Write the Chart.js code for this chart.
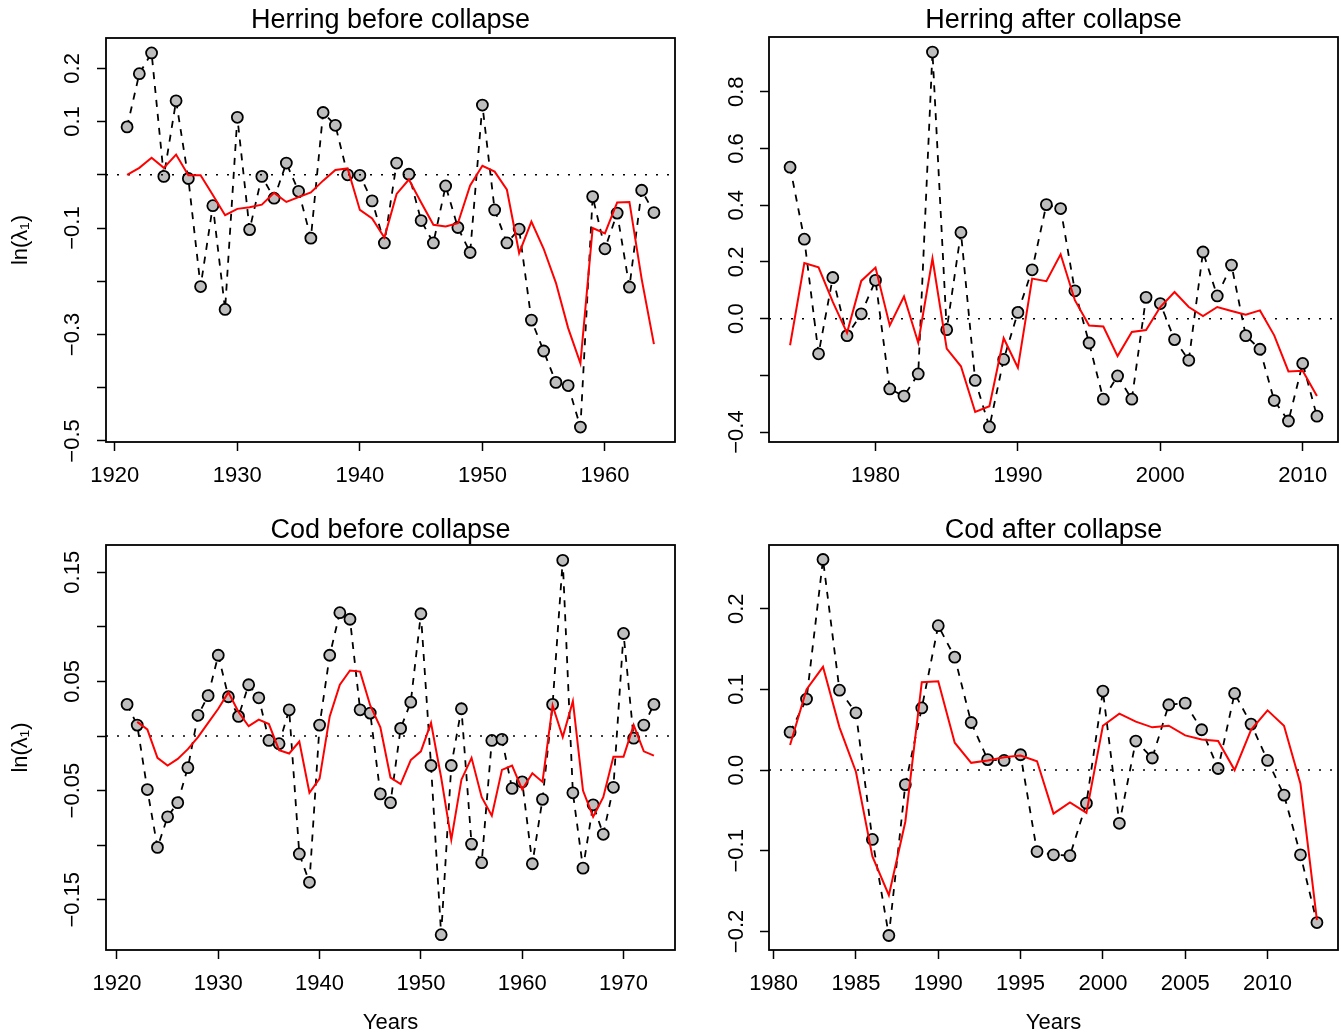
<!DOCTYPE html>
<html>
<head>
<meta charset="utf-8">
<title>Herring and cod: ln(λ1) before and after collapse</title>
<script src="https://cdn.jsdelivr.net/npm/chart.js@4.4.1/dist/chart.umd.min.js"></script>
<style>
  body { margin: 0; background: #fff; }
  canvas { position: absolute; }
</style>
</head>
<body>
<canvas id="herringBefore" width="680" height="500" style="left:0;top:0"></canvas>
<canvas id="herringAfter" width="661" height="500" style="left:680px;top:0"></canvas>
<canvas id="codBefore" width="680" height="534" style="left:0;top:500px"></canvas>
<canvas id="codAfter" width="661" height="534" style="left:680px;top:500px"></canvas>
<script>
// --- Herring before collapse ---
const herringBeforeYears = [1921, 1922, 1923, 1924, 1925, 1926, 1927, 1928, 1929, 1930, 1931, 1932, 1933, 1934, 1935,
  1936, 1937, 1938, 1939, 1940, 1941, 1942, 1943, 1944, 1945, 1946, 1947, 1948, 1949, 1950,
  1951, 1952, 1953, 1954, 1955, 1956, 1957, 1958, 1959, 1960, 1961, 1962, 1963, 1964];
const herringBeforeObs = [0.090, 0.190, 0.229, -0.003, 0.139, -0.007, -0.210, -0.058, -0.253, 0.108, -0.103, -0.003, -0.044, 0.022, -0.031,
  -0.119, 0.117, 0.093, 0.000, -0.001, -0.049, -0.128, 0.022, 0.001, -0.086, -0.128, -0.021, -0.099, -0.146, 0.131,
  -0.066, -0.128, -0.102, -0.273, -0.331, -0.390, -0.396, -0.474, -0.041, -0.139, -0.072, -0.211, -0.029, -0.071];
const herringBeforeFit = [0.000, 0.013, 0.032, 0.013, 0.038, -0.001, -0.001, -0.038, -0.076, -0.064, -0.061, -0.056, -0.034, -0.051, -0.042,
  -0.033, -0.011, 0.009, 0.012, -0.066, -0.082, -0.118, -0.036, -0.009, -0.052, -0.094, -0.097, -0.091, -0.020, 0.017,
  0.006, -0.028, -0.147, -0.088, -0.139, -0.203, -0.288, -0.354, -0.100, -0.110, -0.052, -0.051, -0.196, -0.318];
const herringBeforeXTicks = [1920, 1930, 1940, 1950, 1960];
const herringBeforeYTicks = [-0.5, -0.4, -0.3, -0.2, -0.1, 0, 0.1, 0.2];
const herringBeforeYLabels = ['−0.5', '', '−0.3', '', '−0.1', '', '0.1', '0.2'];
const herringBeforeXRange = [1919.28, 1965.72];
const herringBeforeYRange = [-0.502, 0.257];

// --- Herring after collapse ---
const herringAfterYears = [1974, 1975, 1976, 1977, 1978, 1979, 1980, 1981, 1982, 1983, 1984, 1985, 1986,
  1987, 1988, 1989, 1990, 1991, 1992, 1993, 1994, 1995, 1996, 1997, 1998, 1999,
  2000, 2001, 2002, 2003, 2004, 2005, 2006, 2007, 2008, 2009, 2010, 2011];
const herringAfterObs = [0.534, 0.280, -0.124, 0.145, -0.060, 0.017, 0.135, -0.248, -0.273, -0.195, 0.940, -0.039, 0.304,
  -0.218, -0.382, -0.144, 0.022, 0.172, 0.402, 0.388, 0.098, -0.086, -0.284, -0.202, -0.284, 0.075,
  0.053, -0.074, -0.147, 0.235, 0.080, 0.189, -0.060, -0.108, -0.289, -0.361, -0.158, -0.344];
const herringAfterFit = [-0.094, 0.196, 0.181, 0.059, -0.050, 0.133, 0.180, -0.024, 0.078, -0.085, 0.212, -0.106, -0.168,
  -0.329, -0.309, -0.069, -0.173, 0.141, 0.132, 0.227, 0.065, -0.024, -0.028, -0.132, -0.047, -0.040,
  0.041, 0.094, 0.041, 0.009, 0.041, 0.027, 0.014, 0.029, -0.059, -0.186, -0.184, -0.273];
const herringAfterXTicks = [1980, 1990, 2000, 2010];
const herringAfterYTicks = [-0.4, -0.2, 0, 0.2, 0.4, 0.6, 0.8];
const herringAfterYLabels = ['−0.4', '', '0.0', '0.2', '0.4', '0.6', '0.8'];
const herringAfterXRange = [1972.52, 2012.48];
const herringAfterYRange = [-0.435, 0.993];

// --- Cod before collapse ---
const codBeforeYears = [1921, 1922, 1923, 1924, 1925, 1926, 1927, 1928, 1929, 1930, 1931, 1932, 1933, 1934, 1935, 1936, 1937, 1938,
  1939, 1940, 1941, 1942, 1943, 1944, 1945, 1946, 1947, 1948, 1949, 1950, 1951, 1952, 1953, 1954, 1955, 1956,
  1957, 1958, 1959, 1960, 1961, 1962, 1963, 1964, 1965, 1966, 1967, 1968, 1969, 1970, 1971, 1972, 1973];
const codBeforeObs = [0.029, 0.010, -0.049, -0.102, -0.074, -0.061, -0.029, 0.019, 0.037, 0.074, 0.036, 0.018, 0.047, 0.035, -0.004, -0.007, 0.024, -0.108,
  -0.134, 0.010, 0.074, 0.113, 0.107, 0.024, 0.021, -0.053, -0.061, 0.007, 0.031, 0.112, -0.027, -0.182, -0.027, 0.025, -0.099, -0.116,
  -0.004, -0.003, -0.048, -0.042, -0.117, -0.058, 0.029, 0.161, -0.052, -0.121, -0.063, -0.090, -0.047, 0.094, -0.002, 0.010, 0.029];
const codBeforeFit = [null, 0.013, 0.006, -0.020, -0.027, -0.021, -0.012, -0.001, 0.012, 0.025, 0.040, 0.022, 0.009, 0.015, 0.011, -0.013, -0.016, -0.005,
  -0.052, -0.039, 0.018, 0.047, 0.060, 0.059, 0.028, 0.008, -0.038, -0.044, -0.022, -0.014, 0.012, -0.038, -0.095, -0.040, -0.020, -0.056,
  -0.073, -0.031, -0.027, -0.049, -0.034, -0.042, 0.028, -0.001, 0.032, -0.050, -0.074, -0.056, -0.019, -0.019, 0.010, -0.014, -0.018];
const codBeforeXTicks = [1920, 1930, 1940, 1950, 1960, 1970];
const codBeforeYTicks = [-0.15, -0.1, -0.05, 0, 0.05, 0.1, 0.15];
const codBeforeYLabels = ['−0.15', '', '−0.05', '', '0.05', '', '0.15'];
const codBeforeXRange = [1918.92, 1975.08];
const codBeforeYRange = [-0.196, 0.175];

// --- Cod after collapse ---
const codAfterYears = [1981, 1982, 1983, 1984, 1985, 1986, 1987, 1988, 1989, 1990, 1991,
  1992, 1993, 1994, 1995, 1996, 1997, 1998, 1999, 2000, 2001, 2002, 2003,
  2004, 2005, 2006, 2007, 2008, 2009, 2010, 2011, 2012, 2013];
const codAfterObs = [0.047, 0.088, 0.261, 0.099, 0.071, -0.086, -0.205, -0.018, 0.077, 0.179, 0.140,
  0.059, 0.013, 0.012, 0.019, -0.101, -0.105, -0.106, -0.041, 0.098, -0.066, 0.036, 0.015,
  0.081, 0.083, 0.050, 0.002, 0.095, 0.057, 0.012, -0.031, -0.105, -0.189];
const codAfterFit = [0.031, 0.100, 0.128, 0.053, -0.002, -0.107, -0.155, -0.064, 0.109, 0.110, 0.034,
  0.009, 0.012, 0.016, 0.018, 0.011, -0.054, -0.040, -0.053, 0.055, 0.070, 0.060, 0.053,
  0.055, 0.043, 0.038, 0.036, 0.000, 0.050, 0.074, 0.055, -0.017, -0.186];
const codAfterXTicks = [1980, 1985, 1990, 1995, 2000, 2005, 2010];
const codAfterYTicks = [-0.2, -0.1, 0, 0.1, 0.2];
const codAfterYLabels = ['−0.2', '−0.1', '0.0', '0.1', '0.2'];
const codAfterXRange = [1979.72, 2014.28];
const codAfterYRange = [-0.223, 0.279];

Chart.defaults.font.family = "'Liberation Sans', Arial, Helvetica, sans-serif";
Chart.defaults.color = '#000';

// frame around the plotting region, like R's box()
const plotBox = {
  id: 'plotBox',
  afterDraw(chart) {
    const a = chart.chartArea;
    const ctx = chart.ctx;
    ctx.save();
    ctx.strokeStyle = '#000';
    ctx.lineWidth = 1.8;
    ctx.strokeRect(a.left, a.top, a.right - a.left, a.bottom - a.top);
    ctx.restore();
  }
};

function drawPanel(id, p) {
  const tickGrid = { drawOnChartArea: false, tickLength: 9, tickColor: '#000', tickWidth: 1.5 };
  new Chart(document.getElementById(id), {
    type: 'line',
    data: {
      datasets: [
        {
          data: p.years.map((yr, i) => ({ x: yr, y: p.fit[i] })),
          borderColor: '#ff0000', borderWidth: 2, pointRadius: 0
        },
        {
          data: [{ x: p.xRange[0], y: 0 }, { x: p.xRange[1], y: 0 }],
          borderColor: '#000', borderWidth: 1.5, borderDash: [2, 9], pointRadius: 0
        },
        {
          data: p.years.map((yr, i) => ({ x: yr, y: p.obs[i] })),
          borderColor: '#000', borderWidth: 1.8, borderDash: [7, 7],
          pointRadius: 5.5, pointBackgroundColor: '#bebebe', pointBorderColor: '#000', pointBorderWidth: 1.8
        }
      ]
    },
    options: {
      responsive: false,
      animation: false,
      layout: { autoPadding: false, padding: { top: 0, right: p.padRight, bottom: 0, left: 0 } },
      plugins: {
        legend: { display: false },
        tooltip: { enabled: false },
        title: {
          display: true, text: p.title, fullSize: false, color: '#000',
          font: { size: 27, weight: 'normal', lineHeight: 1 },
          padding: { top: p.titleTop, bottom: p.titleBottom }
        }
      },
      scales: {
        x: {
          type: 'linear', min: p.xRange[0], max: p.xRange[1],
          afterBuildTicks: s => { s.ticks = p.xTicks.map(v => ({ value: v })); },
          afterFit: s => { s.height = p.xAxisHeight; },
          ticks: { autoSkip: false, maxRotation: 0, padding: 12, font: { size: 22 }, callback: v => String(v) },
          grid: tickGrid,
          border: { display: false },
          title: {
            display: !!p.xTitle, text: p.xTitle || '',
            font: { size: 22, lineHeight: 1 }, padding: { top: 0, bottom: 0 }
          }
        },
        y: {
          type: 'linear', min: p.yRange[0], max: p.yRange[1],
          afterBuildTicks: s => { s.ticks = p.yTicks.map(v => ({ value: v })); },
          afterFit: s => { s.width = p.yAxisWidth; },
          ticks: {
            autoSkip: false, minRotation: 90, maxRotation: 90, crossAlign: 'center',
            padding: p.yTickPad, font: { size: 22 }, callback: (v, i) => p.yLabels[i]
          },
          grid: tickGrid,
          border: { display: false },
          title: {
            display: !!p.yTitle, text: p.yTitle || '',
            font: { size: 22, lineHeight: 1 }, padding: { top: 10, bottom: 0 }
          }
        }
      }
    },
    plugins: [plotBox]
  });
}

drawPanel('herringBefore', {
  title: 'Herring before collapse', yTitle: 'ln(λ₁)',
  years: herringBeforeYears, obs: herringBeforeObs, fit: herringBeforeFit,
  xTicks: herringBeforeXTicks, yTicks: herringBeforeYTicks, yLabels: herringBeforeYLabels,
  xRange: herringBeforeXRange, yRange: herringBeforeYRange,
  yAxisWidth: 106, xAxisHeight: 58, padRight: 5, titleTop: 7.5, titleBottom: 3.5, yTickPad: 2.3
});

drawPanel('herringAfter', {
  title: 'Herring after collapse',
  years: herringAfterYears, obs: herringAfterObs, fit: herringAfterFit,
  xTicks: herringAfterXTicks, yTicks: herringAfterYTicks, yLabels: herringAfterYLabels,
  xRange: herringAfterXRange, yRange: herringAfterYRange,
  yAxisWidth: 89, xAxisHeight: 58, padRight: 3, titleTop: 7.5, titleBottom: 2.5, yTickPad: 1.5
});

drawPanel('codBefore', {
  title: 'Cod before collapse', yTitle: 'ln(λ₁)', xTitle: 'Years',
  years: codBeforeYears, obs: codBeforeObs, fit: codBeforeFit,
  xTicks: codBeforeXTicks, yTicks: codBeforeYTicks, yLabels: codBeforeYLabels,
  xRange: codBeforeXRange, yRange: codBeforeYRange,
  yAxisWidth: 106, xAxisHeight: 84, padRight: 5, titleTop: 17, titleBottom: 1, yTickPad: -3.8
});

drawPanel('codAfter', {
  title: 'Cod after collapse', xTitle: 'Years',
  years: codAfterYears, obs: codAfterObs, fit: codAfterFit,
  xTicks: codAfterXTicks, yTicks: codAfterYTicks, yLabels: codAfterYLabels,
  xRange: codAfterXRange, yRange: codAfterYRange,
  yAxisWidth: 89, xAxisHeight: 84, padRight: 3, titleTop: 17, titleBottom: 1, yTickPad: 1.5
});
</script>
</body>
</html>
